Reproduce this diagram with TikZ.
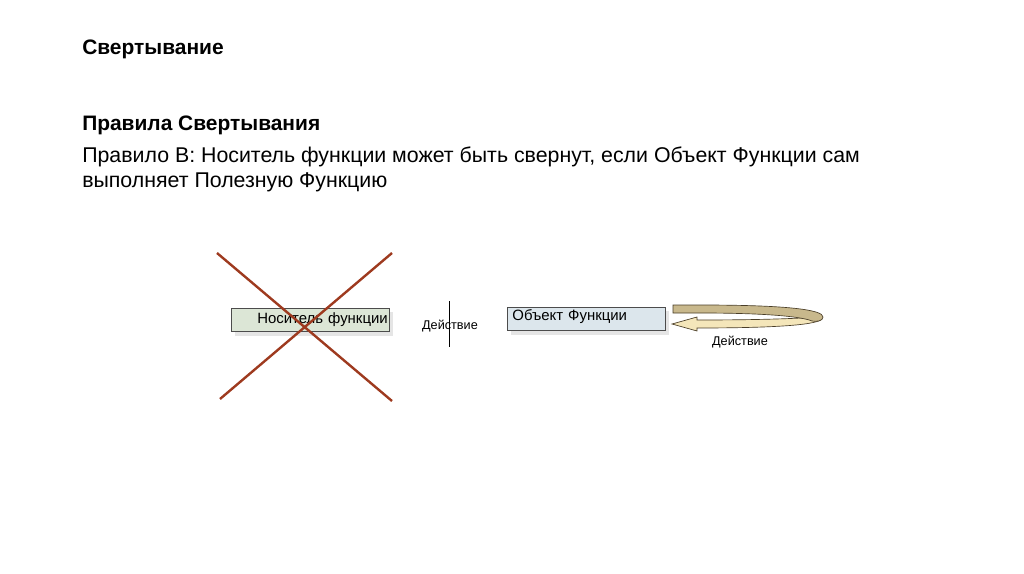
\documentclass[tikz,border=0pt]{standalone}
\usepackage{fontspec}
\setmainfont{Liberation Sans}
\usetikzlibrary{positioning}
\definecolor{crossred}{HTML}{9E3A1F}
\definecolor{carrier}{HTML}{DCE6D6}
\definecolor{objblue}{HTML}{DCE6EC}
\definecolor{bandtop}{HTML}{C8B88C}
\definecolor{bandlow}{HTML}{F4E6BA}
\definecolor{bandline}{HTML}{4A3E28}
\tikzset{
	title/.style={anchor=base west, inner sep=0pt, font=\bfseries\fontsize{15.7}{18}\selectfont},
	body/.style={anchor=base west, inner sep=0pt, align=left, font=\fontsize{16}{18.75}\selectfont},
	small/.style={inner sep=0pt, font=\fontsize{9.5}{11}\selectfont},
	funcbox/.style={draw=black!70, line width=0.6pt, anchor=north west, minimum width=118.5pt, minimum height=17.5pt, inner sep=0pt, font=\fontsize{11.2}{13}\selectfont},
	shadowbox/.style={fill=black!10, draw=none, anchor=north west, minimum width=118.5pt, minimum height=17.5pt},
}
\begin{document}
\begin{tikzpicture}[x=0.75pt,y=-0.75pt]
	\useasboundingbox (0,0) rectangle (1024,574);
	% headings
	\node[title] (head) at (82,55) {Свертывание};
	\node[title] (rules) at (82,131) {Правила Свертывания};
	\node[body] (rule) at (82,187) {Правило В: Носитель функции может быть свернут, если Объект Функции сам\\выполняет Полезную Функцию};
	
	% carrier of function
	\node[shadowbox] at (235,312) {};
	\node[funcbox, fill=carrier, text width=116pt, align=right] (carrier) at (231,308) {Носитель функции};
	\draw [crossred, line width=1.8pt] (217,253) -- (392,401);
	\draw [crossred, line width=1.8pt] (392,253) -- (220,399);
	
	% action
	\coordinate (vtop) at (449,301);
	\coordinate (vbot) at (449,347);
	\draw [black, line width=0.7pt] (vtop) -- (vbot);
	\node[small, anchor=base] (act1) at (450,329) {Действие};
	
	% object of function
	\node[shadowbox] at (511,311) {};
	\node[funcbox, fill=objblue, text width=111pt, align=left, text depth=6pt] (object) at (507,307) {Объект Функции};
	
	% arrow from the object back to itself
	\begin{scope}[line width=0.5pt, draw=bandline]
		\filldraw [fill=bandlow] (818,317) .. controls (790,319) and (750,320) .. (697,320)
			-- (697,317) -- (672,324) -- (697,331) -- (697,328)
			.. controls (760,328) and (816,326) .. (822,319) -- cycle;
		\filldraw [fill=bandtop] (673,305) -- (700,305)
			.. controls (790,305) and (823,310) .. (823,317)
			.. controls (823,321) and (816,322) .. (812,321)
			.. controls (800,316) and (760,313) .. (700,313) -- (673,313) -- cycle;
	\end{scope}
	\node[small, anchor=base] (act2) at (740,345) {Действие};
\end{tikzpicture}
\end{document}
